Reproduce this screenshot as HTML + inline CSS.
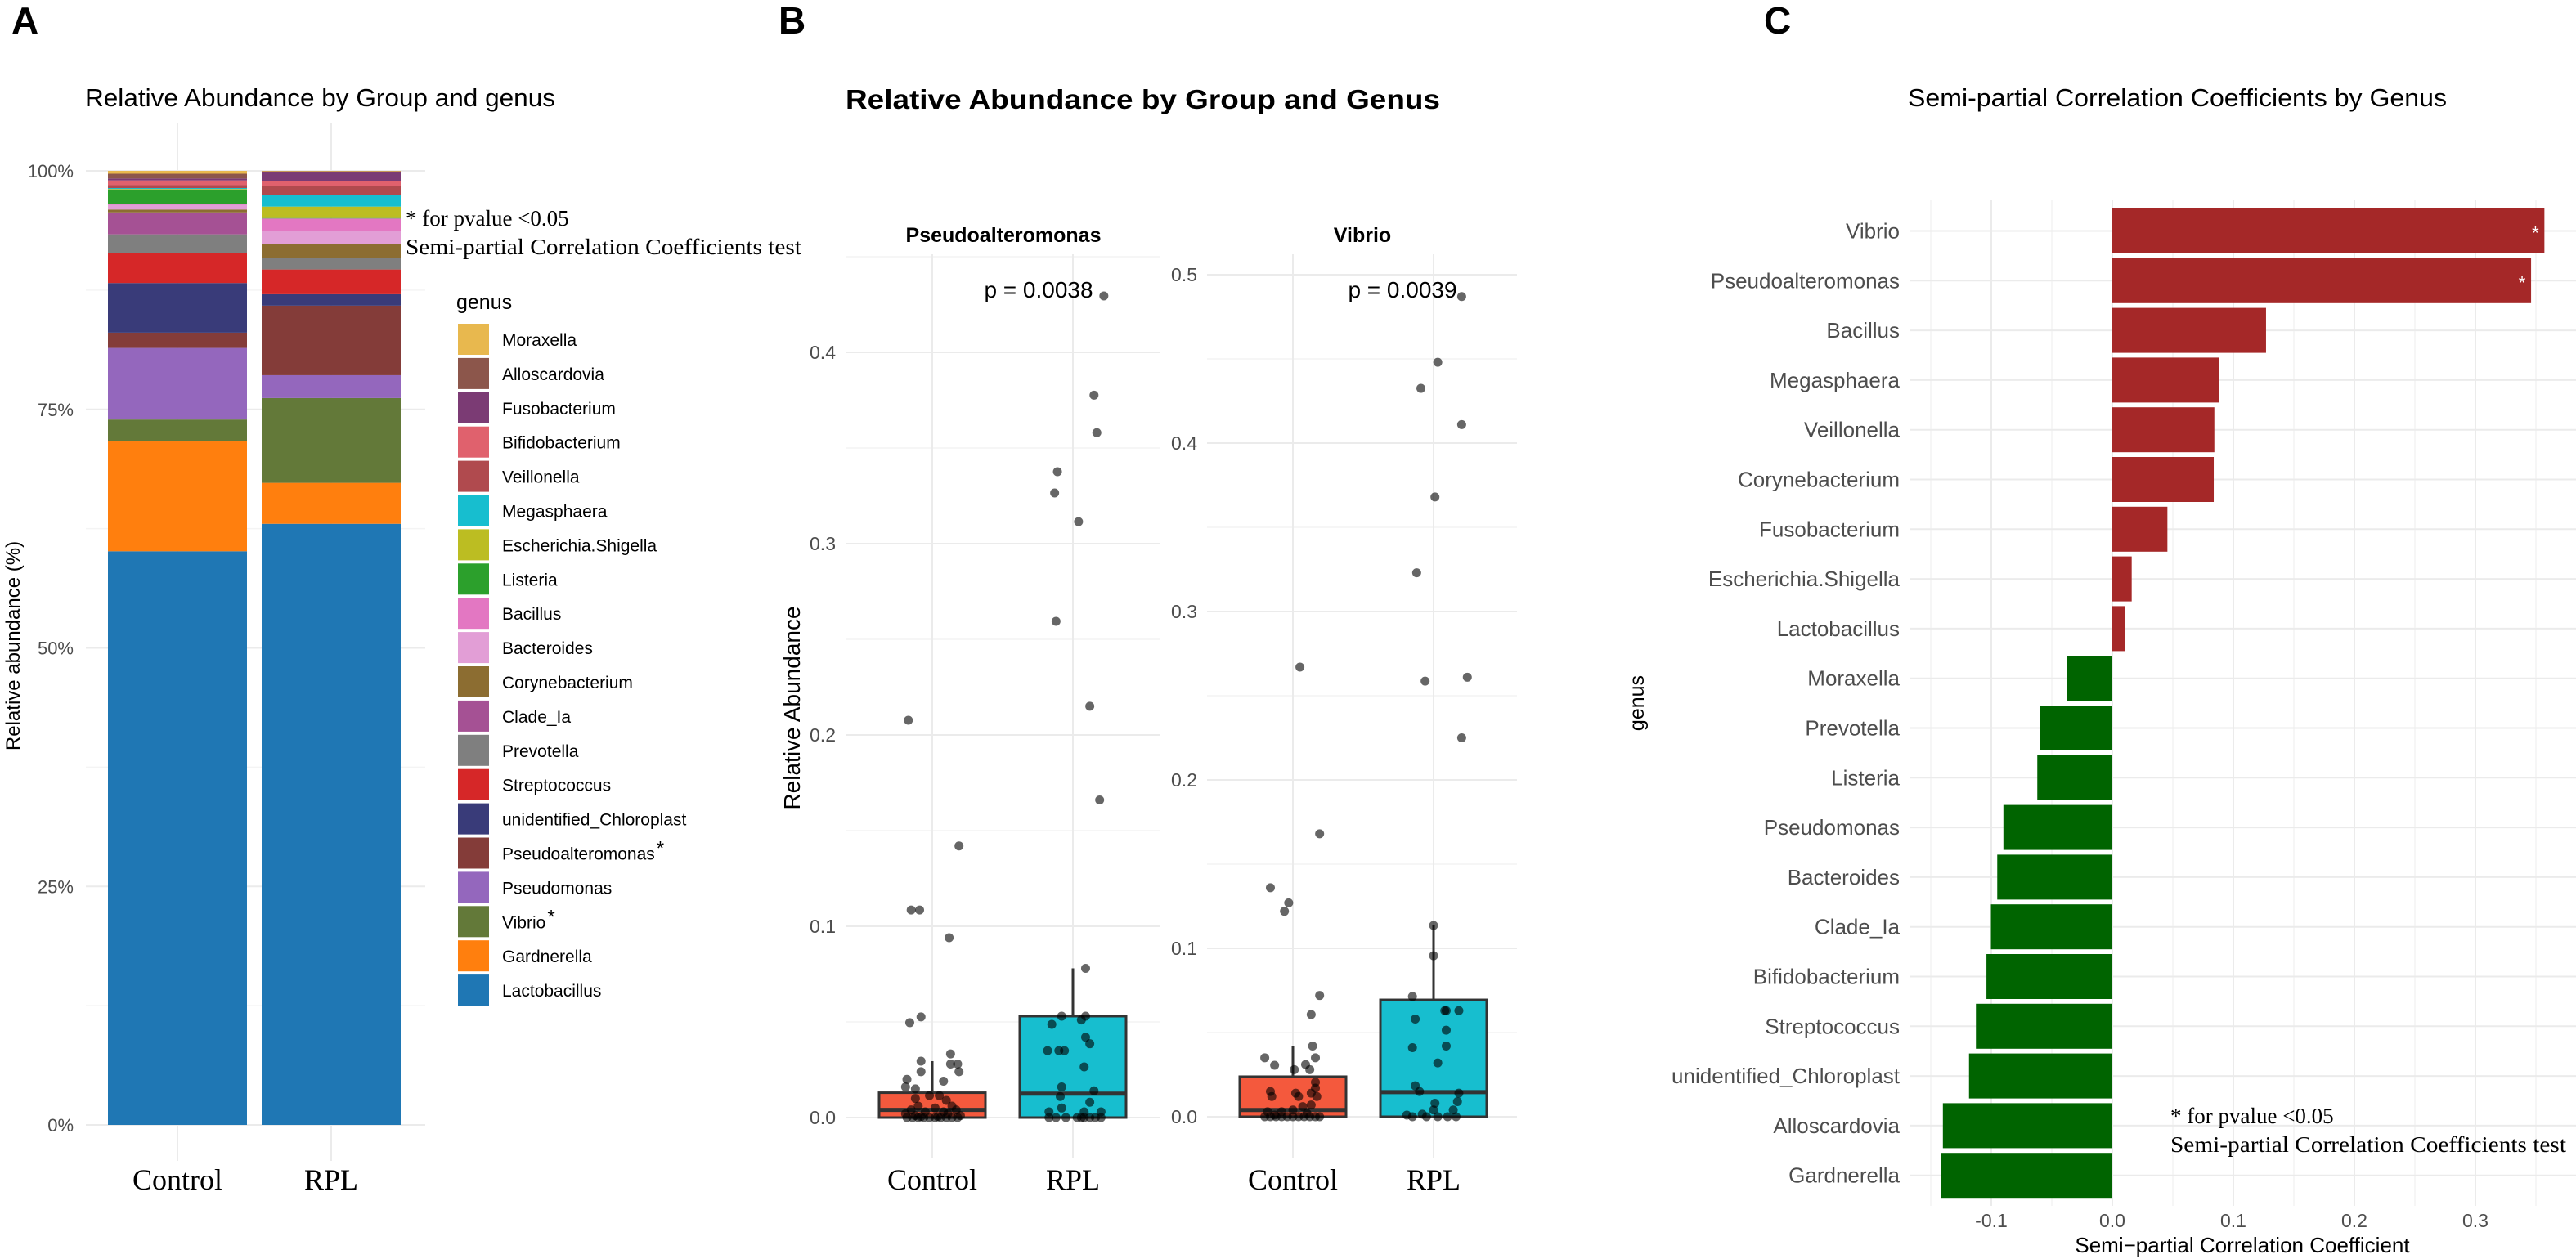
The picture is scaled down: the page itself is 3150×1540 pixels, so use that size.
<!DOCTYPE html>
<html><head><meta charset="utf-8"><title>Relative abundance and semi-partial correlation by genus</title>
<style>
html,body{margin:0;padding:0;background:#fff;width:3150px;height:1540px;overflow:hidden}
svg{display:block}
.sans{font-family:"Liberation Sans",Arial,sans-serif}
.serif{font-family:"Liberation Serif","Times New Roman",serif}
</style></head>
<body>
<svg id="fig" xmlns="http://www.w3.org/2000/svg" width="3150" height="1540" viewBox="0 0 3150 1540">
  <rect x="0" y="0" width="3150" height="1540" fill="#fff"/>
  <g id="gridA"></g>
  <g id="gridB"></g>
  <g id="gridC"></g>
  <g id="marksA"></g>
  <g id="marksB"></g>
  <g id="marksC"></g>
  <g id="textG" class="sans">
    <text x="14" y="41" font-size="46" font-weight="bold">A</text>
    <text x="952" y="41" font-size="46" font-weight="bold">B</text>
    <text x="2157" y="41" font-size="46" font-weight="bold">C</text>
    <text x="104" y="130" font-size="31" textLength="575" lengthAdjust="spacingAndGlyphs">Relative Abundance by Group and genus</text>
    <text x="1034" y="133" font-size="33" font-weight="bold" textLength="727" lengthAdjust="spacingAndGlyphs">Relative Abundance by Group and Genus</text>
    <text x="2333" y="130" font-size="31" textLength="659" lengthAdjust="spacingAndGlyphs">Semi-partial Correlation Coefficients by Genus</text>
    <text transform="translate(24,790) rotate(-90)" text-anchor="middle" font-size="24">Relative abundance (%)</text>
    <text class="serif" x="496" y="276" font-size="27">* for pvalue &lt;0.05</text>
    <text class="serif" x="496" y="311" font-size="27" textLength="484" lengthAdjust="spacingAndGlyphs">Semi-partial Correlation Coefficients test</text>
    <text x="558" y="378" font-size="25">genus</text>
    <text transform="translate(978,866) rotate(-90)" text-anchor="middle" font-size="28">Relative Abundance</text>
    <text x="1227" y="296" text-anchor="middle" font-size="25" font-weight="bold">Pseudoalteromonas</text>
    <text x="1666" y="296" text-anchor="middle" font-size="25" font-weight="bold">Vibrio</text>
    <text x="1270" y="364" text-anchor="middle" font-size="28">p = 0.0038</text>
    <text x="1715" y="364" text-anchor="middle" font-size="28">p = 0.0039</text>
    <text transform="translate(2010,860) rotate(-90)" text-anchor="middle" font-size="25">genus</text>
    <text x="2742" y="1532" text-anchor="middle" font-size="26">Semi−partial Correlation Coefficient</text>
    <text class="serif" x="2654" y="1374" font-size="27">* for pvalue &lt;0.05</text>
    <text class="serif" x="2654" y="1409" font-size="27" textLength="484" lengthAdjust="spacingAndGlyphs">Semi-partial Correlation Coefficients test</text>
  </g>
  <g id="legendG" class="sans"></g>
</svg>
<script>
// ---------- Panel A data ----------
const genera = ["Moraxella","Alloscardovia","Fusobacterium","Bifidobacterium","Veillonella","Megasphaera","Escherichia.Shigella","Listeria","Bacillus","Bacteroides","Corynebacterium","Clade_Ia","Prevotella","Streptococcus","unidentified_Chloroplast","Pseudoalteromonas","Pseudomonas","Vibrio","Gardnerella","Lactobacillus"];
const genusColors = ["#E8B84E","#8C564B","#7B3B74","#E0616D","#B04A4E","#17BECF","#BCBD22","#2CA02C","#E377C2","#E29ED6","#8C6D31","#A55194","#7F7F7F","#D62728","#393B79","#843C39","#9467BD","#637939","#FF7F0E","#1F77B4"];
const starred = ["Pseudoalteromonas","Vibrio"];
const groupsA = ["Control","RPL"];
const controlPct = [0.3,0.5,0.2,0.5,0.3,0.1,0.15,1.4,0.1,0.5,0.3,2.3,2.0,3.1,5.2,1.6,7.5,2.3,11.5,60.1];
const rplPct = [0.05,0.1,0.9,0.5,1.0,1.2,1.2,0.05,1.3,1.4,1.4,0.05,1.2,2.6,1.2,7.3,2.4,8.9,4.3,63.1];
const ticksA = [0,25,50,75,100];
const tickLabelsA = ["0%","25%","50%","75%","100%"];

// ---------- Panel B data ----------
const groupsB = ["Control","RPL"];
const pseudoQuart = { }; // placeholder (not used)
const pseudoBoxControl = [0, 0.0, 0.004, 0.013, 0.0295]; // min, q1, median, q3, upper whisker
const pseudoBoxRPL = [0, 0.0, 0.0125, 0.053, 0.078];
const vibrioBoxControl = [0, 0.0, 0.004, 0.0238, 0.042];
const vibrioBoxRPL = [0, 0.0, 0.0146, 0.0694, 0.1136];
// points: [value, jitter (category units)]
const pseudoPtsControl = [[0.2077,-0.17],[0.142,0.19],[0.1085,-0.15],[0.1085,-0.09],[0.094,0.12],[0.0496,-0.16],[0.0526,-0.08],[0.0295,-0.08],[0.0333,0.13],[0.028,0.13],[0.028,0.18],[0.024,0.19],[0.024,-0.08],[0.020,-0.18],[0.016,-0.19],[0.015,-0.12],[0.019,0.08],[0.0115,-0.02],[0.0115,0.05],[0.010,-0.12],[0.009,0.10],[0.006,-0.1],[0.006,0.14],[0.005,0.02],[0.004,-0.15],[0.004,0.17],[0.003,-0.05],[0.003,0.08],[0.002,-0.19],[0.002,0.11],[0.001,-0.12],[0.001,0.2],[0.0,-0.18],[0.0,-0.14],[0.0,-0.1],[0.0,-0.06],[0.0,-0.02],[0.0,0.02],[0.0,0.06],[0.0,0.1],[0.0,0.14],[0.0,0.18],[0.0005,-0.08],[0.0005,0.04]];
const pseudoPtsRPL = [[0.4295,0.22],[0.3776,0.15],[0.358,0.17],[0.3376,-0.11],[0.3265,-0.13],[0.3115,0.04],[0.2594,-0.12],[0.215,0.12],[0.166,0.19],[0.078,0.09],[0.053,-0.08],[0.053,0.09],[0.051,0.06],[0.0487,-0.15],[0.042,0.09],[0.0386,0.12],[0.035,-0.18],[0.035,-0.1],[0.035,-0.06],[0.0265,0.08],[0.016,-0.08],[0.014,0.15],[0.011,-0.09],[0.008,0.12],[0.005,-0.08],[0.003,-0.17],[0.003,0.08],[0.003,0.2],[0,-0.17],[0,-0.12],[0,-0.05],[0,0.03],[0,0.06],[0,0.08],[0,0.12],[0,0.16],[0,0.2]];
const vibrioPtsControl = [[0.267,0.05],[0.168,0.19],[0.136,-0.16],[0.127,-0.03],[0.122,-0.06],[0.072,0.19],[0.0607,0.13],[0.042,0.14],[0.035,-0.2],[0.035,0.16],[0.0306,-0.13],[0.031,0.09],[0.028,0.12],[0.028,0.01],[0.0205,0.16],[0.017,0.16],[0.015,-0.16],[0.012,-0.15],[0.014,0.02],[0.012,0.04],[0.012,0.17],[0.014,0.13],[0.006,0.07],[0.004,0],[0.007,0.13],[0.003,-0.18],[0.003,-0.08],[0.002,0.1],[0.001,-0.13],[0,-0.2],[0,-0.16],[0,-0.12],[0,-0.08],[0,-0.04],[0,0],[0,0.04],[0,0.08],[0,0.12],[0,0.16],[0,0.19]];
const vibrioPtsRPL = [[0.487,0.2],[0.448,0.03],[0.4325,-0.09],[0.411,0.2],[0.368,0.01],[0.323,-0.12],[0.261,0.24],[0.2587,-0.06],[0.225,0.2],[0.1136,0],[0.0956,0],[0.0714,-0.15],[0.058,-0.13],[0.063,0.08],[0.063,0.09],[0.063,0.18],[0.0514,0.09],[0.041,-0.15],[0.042,0.09],[0.032,0.03],[0.0184,-0.13],[0.015,-0.1],[0.014,0.18],[0.008,0.01],[0.009,0.17],[0.004,0.14],[0.0015,-0.08],[0.001,-0.19],[0.004,0],[0,-0.15],[0,-0.05],[0,0.03],[0,0.1],[0,0.16]];
const ticksPseudo = [0,0.1,0.2,0.3,0.4];
const ticksVibrio = [0,0.1,0.2,0.3,0.4,0.5];
const tickLabelsPseudo = ["0.0","0.1","0.2","0.3","0.4"];
const tickLabelsVibrio = ["0.0","0.1","0.2","0.3","0.4","0.5"];

// ---------- Panel C data ----------
const genusC = ["Vibrio","Pseudoalteromonas","Bacillus","Megasphaera","Veillonella","Corynebacterium","Fusobacterium","Escherichia.Shigella","Lactobacillus","Moraxella","Prevotella","Listeria","Pseudomonas","Bacteroides","Clade_Ia","Bifidobacterium","Streptococcus","unidentified_Chloroplast","Alloscardovia","Gardnerella"];
const coefC = [0.357,0.346,0.127,0.088,0.0843,0.0838,0.0455,0.016,0.0103,-0.0378,-0.0595,-0.062,-0.090,-0.0951,-0.1003,-0.104,-0.1127,-0.1184,-0.140,-0.1417];
const sigC = ["Vibrio","Pseudoalteromonas"];
const ticksC = [-0.1,0,0.1,0.2,0.3];
const tickLabelsC = ["-0.1","0.0","0.1","0.2","0.3"];

// ---------- helpers ----------
const NS = "http://www.w3.org/2000/svg";
function mk(parent, tag, attrs){ const e=document.createElementNS(NS,tag); for(const k in attrs) e.setAttribute(k,attrs[k]); parent.appendChild(e); return e; }
const GRID="#ebebeb", GRIDMIN="#f4f4f4", TICK="#4d4d4d";

// ================= Panel A =================
(function(){
  const gG=document.getElementById('gridA'), mG=document.getElementById('marksA'), tG=document.getElementById('textG'), lG=document.getElementById('legendG');
  const y0=1376, y1=209;
  const yA = v => y0 - (v/100)*(y0-y1);
  const xCenters = {Control:217, RPL:405}; const half=85;
  for(let v=12.5; v<100; v+=25){
    const l=mk(gG,'line',{x1:105,x2:520,y1:yA(v),y2:yA(v),stroke:GRIDMIN,'stroke-width':1.5});
    
    
  }
  ticksA.forEach((t,i)=>{
    const l=mk(gG,'line',{x1:105,x2:520,y1:yA(t),y2:yA(t),stroke:GRID,'stroke-width':2});
    
    
    const tx=mk(tG,'text',{x:90,y:yA(t)+8,'text-anchor':'end','font-size':22,fill:TICK});
    tx.textContent=tickLabelsA[i];
    
    
  });
  groupsA.forEach(g=>{
    const l=mk(gG,'line',{x1:xCenters[g],x2:xCenters[g],y1:150,y2:1420,stroke:GRID,'stroke-width':2});
    
    
    const tx=mk(tG,'text',{x:xCenters[g],y:1455,'text-anchor':'middle','font-size':36,class:'serif'});
    tx.textContent=g;
    
    
  });
  [["Control",controlPct],["RPL",rplPct]].forEach(([g,vals])=>{
    const tot=vals.reduce((a,b)=>a+b,0);
    let cum=0;
    for(let i=vals.length-1;i>=0;i--){
      const v=vals[i]/tot*100;
      const top=yA(cum+v), bot=yA(cum);
      const r=mk(mG,'rect',{x:xCenters[g]-half,y:top,width:half*2,height:Math.max(0.5,bot-top),fill:genusColors[i]});
      
      
      cum+=v;
    }
  });
  genera.forEach((g,i)=>{
    const cy=415+i*41.9;
    const r=mk(lG,'rect',{x:560,y:cy-19,width:38,height:38,fill:genusColors[i]});
    
    
    const t=mk(lG,'text',{x:614,y:cy+8,'font-size':21});
    
    
    t.textContent=g;
    if(starred.includes(g)){ const s=mk(t,'tspan',{dx:2,dy:-6,'font-size':24}); s.textContent='*'; }
  });
})();

// ================= Panel B =================
(function(){
  const gG=document.getElementById('gridB'), mG=document.getElementById('marksB'), tG=document.getElementById('textG');
  const facets=[
    {name:'pseudoalteromonas', y0:1367, k:2340, xl:1035, xr:1418, cx:[1140,1312], ticks:ticksPseudo, labels:tickLabelsPseudo, labX:1022, maxV:0.45,
     boxes:[pseudoBoxControl,pseudoBoxRPL], pts:[pseudoPtsControl,pseudoPtsRPL]},
    {name:'vibrio', y0:1366, k:2060, xl:1476, xr:1855, cx:[1581,1753], ticks:ticksVibrio, labels:tickLabelsVibrio, labX:1464, maxV:0.51,
     boxes:[vibrioBoxControl,vibrioBoxRPL], pts:[vibrioPtsControl,vibrioPtsRPL]}
  ];
  const fills=["#F4593D","#17BECF"];
  facets.forEach(f=>{
    const yB=v=>f.y0-v*f.k;
    for(let v=0.05; v<f.maxV; v+=0.1){
      const l=mk(gG,'line',{x1:f.xl,x2:f.xr,y1:yB(v),y2:yB(v),stroke:GRIDMIN,'stroke-width':1.5});
      
      
    }
    f.ticks.forEach((t,i)=>{
      const l=mk(gG,'line',{x1:f.xl,x2:f.xr,y1:yB(t),y2:yB(t),stroke:GRID,'stroke-width':2});
      
      
      const tx=mk(tG,'text',{x:f.labX,y:yB(t)+8,'text-anchor':'end','font-size':23,fill:TICK});
      tx.textContent=f.labels[i];
      
      
    });
    groupsB.forEach((g,gi)=>{
      const cx=f.cx[gi];
      const l=mk(gG,'line',{x1:cx,x2:cx,y1:311,y2:1417,stroke:GRID,'stroke-width':2});
      
      
      const tx=mk(tG,'text',{x:cx,y:1455,'text-anchor':'middle','font-size':36,class:'serif'});
      tx.textContent=g;
      
      
      const b=f.boxes[gi];
      const w=mk(mG,'line',{x1:cx,x2:cx,y1:yB(b[3]),y2:yB(b[4]),stroke:'#333','stroke-width':3});
      
      
      const r=mk(mG,'rect',{x:cx-65,y:yB(b[3]),width:130,height:yB(b[1])-yB(b[3]),fill:fills[gi],stroke:'#333','stroke-width':3});
      
      
      const m=mk(mG,'line',{x1:cx-65,x2:cx+65,y1:yB(b[2]),y2:yB(b[2]),stroke:'#333','stroke-width':5});
      
      
      f.pts[gi].forEach(p=>{
        const c=mk(mG,'circle',{cx:cx+p[1]*172,cy:yB(p[0]),r:5.5,fill:'#000','fill-opacity':0.6});
        
        
      });
    });
  });
})();

// ================= Panel C =================
(function(){
  const gG=document.getElementById('gridC'), mG=document.getElementById('marksC'), tG=document.getElementById('textG');
  const x0=2583, k=1480;
  const xC=v=>x0+v*k;
  const yC=i=>282.5+i*60.8;
  for(let v=-0.15; v<0.4; v+=0.1){
    const l=mk(gG,'line',{x1:xC(v),x2:xC(v),y1:245,y2:1475,stroke:GRIDMIN,'stroke-width':1.5});
    
    
  }
  ticksC.forEach((t,i)=>{
    const l=mk(gG,'line',{x1:xC(t),x2:xC(t),y1:245,y2:1475,stroke:GRID,'stroke-width':2});
    
    
    const tx=mk(tG,'text',{x:xC(t),y:1501,'text-anchor':'middle','font-size':23,fill:TICK});
    tx.textContent=tickLabelsC[i];
    
    
  });
  genusC.forEach((g,i)=>{
    const l=mk(gG,'line',{x1:2336,x2:3150,y1:yC(i),y2:yC(i),stroke:GRID,'stroke-width':2});
    
    
    const tx=mk(tG,'text',{x:2323,y:yC(i)+9,'text-anchor':'end','font-size':26,fill:TICK});
    tx.textContent=g;
    
    
    const v=coefC[i];
    const xa=Math.min(xC(0),xC(v)), xb=Math.max(xC(0),xC(v));
    const r=mk(mG,'rect',{x:xa,y:yC(i)-27.5,width:xb-xa,height:55,fill:v>=0?'#A52828':'#006400'});
    
    
    if(sigC.includes(g)){
      const s=mk(mG,'text',{x:xC(v)-11,y:yC(i)+10,'text-anchor':'middle','font-size':22,fill:'#fff',class:'sans'});
      s.textContent='*';
      
      
    }
  });
})();
</script>
</body></html>
